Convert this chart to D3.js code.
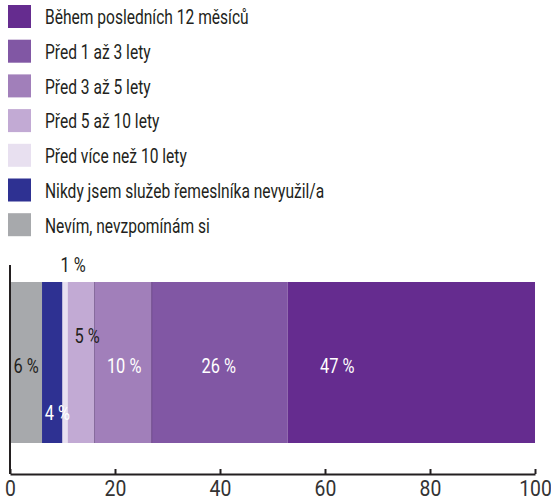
<!DOCTYPE html>
<html>
<head>
<meta charset="utf-8">
<script src="https://cdn.jsdelivr.net/npm/d3@7"></script>
<style>
  body { margin: 0; background: #fff; }
  svg { display: block; font-family: Roboto, "Noto Sans", sans-serif; }
</style>
</head>
<body>
<svg id="chart" width="551" height="498"></svg>
<script>
// ── Data ──────────────────────────────────────────────────────────
// Legend order (top to bottom)
const legendLabels = [
  'Během posledních 12 měsíců',
  'Před 1 až 3 lety',
  'Před 3 až 5 lety',
  'Před 5 až 10 lety',
  'Před více než 10 lety',
  'Nikdy jsem služeb řemeslníka nevyužil/a',
  'Nevím, nevzpomínám si'
];
// Bar order (left to right), shares in %
const segKeys   = ['Nevím, nevzpomínám si', 'Nikdy jsem služeb řemeslníka nevyužil/a', 'Před více než 10 lety',
                   'Před 5 až 10 lety', 'Před 3 až 5 lety', 'Před 1 až 3 lety', 'Během posledních 12 měsíců'];
const segValues = [6.1, 3.9, 1.0, 5.1, 10.9, 25.9, 47.1];
const segLabels = ['6 %', '4 %', '1 %', '5 %', '10 %', '26 %', '47 %'];
const xTicks    = [0, 20, 40, 60, 80, 100];

// ── Styles ────────────────────────────────────────────────────────
const COLOR = {
  'Během posledních 12 měsíců': '#652c8f',
  'Před 1 až 3 lety': '#8157a4',
  'Před 3 až 5 lety': '#a17fba',
  'Před 5 až 10 lety': '#c2aad4',
  'Před více než 10 lety': '#e8e0f0',
  'Nikdy jsem služeb řemeslníka nevyužil/a': '#2e3192',
  'Nevím, nevzpomínám si': '#a7a9ac'
};
// label placement: offset from segment centre (px) and vertical position within bar (0 top, 1 bottom)
const LABEL_STYLE = [
  { dx: 0,   fy: 0.52, fill: '#231f20' },
  { dx: 5,   fy: 0.81, fill: '#ffffff' },
  { dx: 8,   fy: -0.11, fill: '#231f20' },
  { dx: 6,   fy: 0.33, fill: '#231f20' },
  { dx: 1,   fy: 0.52, fill: '#ffffff' },
  { dx: -1,  fy: 0.52, fill: '#ffffff' },
  { dx: -74, fy: 0.52, fill: '#ffffff' }
];
const TEXT = '#231f20';
const SQUEEZE = 0.8;          // horizontal condensing to mimic a condensed face
const LEGEND_SQUEEZE = 0.76;

const svg = d3.select('#chart');

// ── Legend ────────────────────────────────────────────────────────
const legend = svg.append('g').attr('transform', 'translate(8,5)');
const rows = legend.selectAll('g')
  .data(legendLabels)
  .join('g')
    .attr('transform', (d, i) => `translate(0,${i * 34.7})`);
rows.append('rect')
  .attr('width', 23).attr('height', 23)
  .attr('fill', d => COLOR[d]);
rows.append('text')
  .attr('transform', `translate(37,12) scale(${LEGEND_SQUEEZE},1)`)
  .attr('dy', '0.36em')
  .attr('font-size', 20.5)
  .attr('fill', TEXT)
  .text(d => d);

// ── Bar ───────────────────────────────────────────────────────────
const x = d3.scaleLinear().domain([0, 100]).range([10, 535]);
const barTop = 282, barBottom = 443, axisY = 474;

let acc = 0;
const segs = segValues.map((v, i) => {
  const s = { key: segKeys[i], x0: acc, x1: acc + v, label: segLabels[i], st: LABEL_STYLE[i] };
  acc += v;
  return s;
});

svg.append('g').selectAll('rect')
  .data(segs)
  .join('rect')
    .attr('x', d => x(d.x0))
    .attr('y', barTop)
    .attr('width', d => x(d.x1) - x(d.x0))
    .attr('height', barBottom - barTop)
    .attr('fill', d => COLOR[d.key]);

// thin darker edges between purple segments
svg.append('g').selectAll('line')
  .data(segs.slice(4, 6))
  .join('line')
    .attr('x1', d => x(d.x0)).attr('x2', d => x(d.x0))
    .attr('y1', barTop).attr('y2', barBottom)
    .attr('stroke', d => d3.color(COLOR[d.key]).darker(0.5))
    .attr('stroke-width', 1);

svg.append('g').selectAll('text')
  .data(segs)
  .join('text')
    .attr('transform', d => `translate(${(x(d.x0) + x(d.x1)) / 2 + d.st.dx},${barTop + d.st.fy * (barBottom - barTop)}) scale(${SQUEEZE},1)`)
    .attr('dy', '0.36em')
    .attr('text-anchor', 'middle')
    .attr('font-size', 20.5)
    .attr('fill', d => d.st.fill)
    .text(d => d.label);

// ── Axes ──────────────────────────────────────────────────────────
const xAxis = svg.append('g')
  .attr('transform', `translate(0,${axisY})`)
  .call(d3.axisTop(x).tickValues(xTicks).tickSize(5).tickSizeOuter(0).tickFormat(d3.format('d')));
xAxis.select('.domain').attr('stroke', TEXT).attr('stroke-width', 2);
xAxis.selectAll('.tick line').attr('stroke', TEXT).attr('stroke-width', 2);
xAxis.selectAll('.tick text')
  .attr('y', null)
  .attr('transform', `translate(0,6) scale(0.88,1)`)
  .attr('dy', '0.72em')
  .attr('font-size', 22)
  .attr('font-family', 'Roboto, sans-serif')
  .attr('fill', '#333');

svg.append('line')
  .attr('x1', x(0)).attr('x2', x(0))
  .attr('y1', 265).attr('y2', axisY)
  .attr('stroke', TEXT).attr('stroke-width', 2);
</script>
</body>
</html>
